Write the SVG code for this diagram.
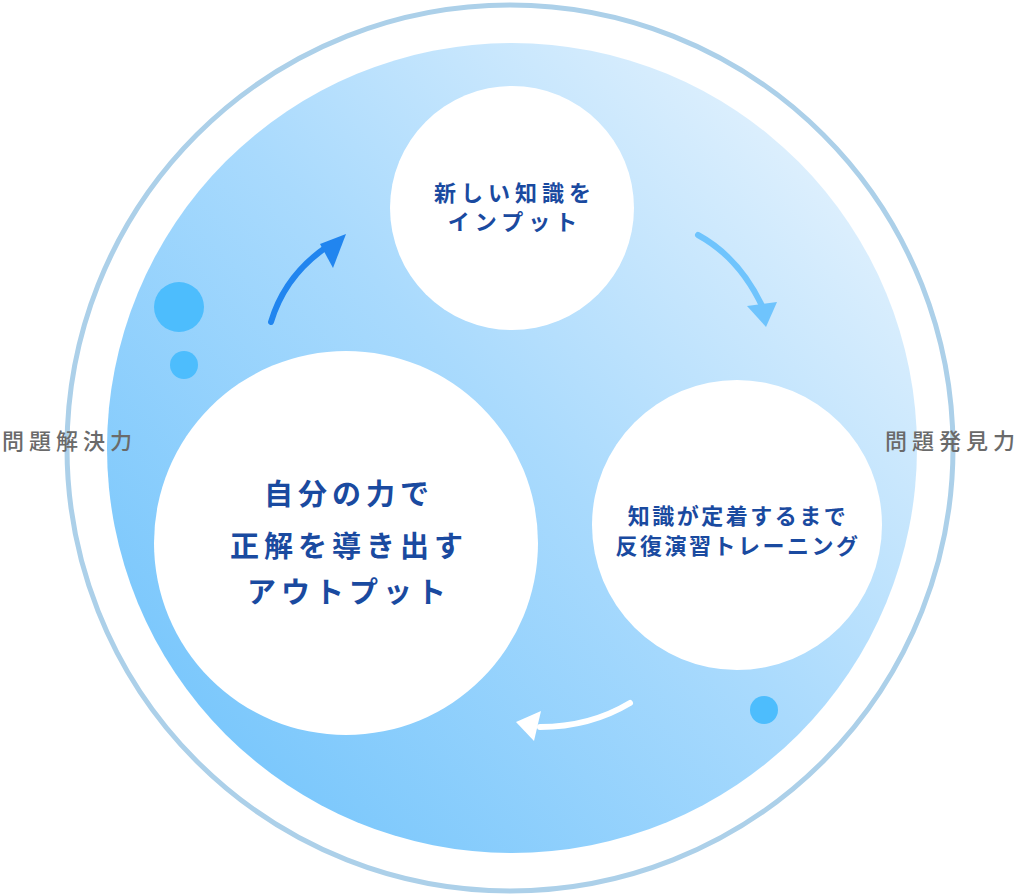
<svg xmlns="http://www.w3.org/2000/svg" width="1020" height="896" viewBox="0 0 1020 896">
<defs>
<linearGradient id="bg" x1="0.15" y1="0.85" x2="0.9" y2="0.15">
<stop offset="0" stop-color="#7cc8fc"/>
<stop offset="0.5" stop-color="#a9dafd"/>
<stop offset="1" stop-color="#dff0fd"/>
</linearGradient>
<style>
.node{fill:#fff}
.t{font-family:"Noto Sans CJK JP","Noto Sans",sans-serif;font-weight:700;fill:#1a4aa0;text-anchor:middle}
.side{font-family:"Noto Sans CJK JP","Noto Sans",sans-serif;font-weight:500;fill:#6a6a6a;font-size:22px;letter-spacing:5px}
.dot{fill:#4dbdfd}
</style>
</defs>
<circle cx="510" cy="448" r="443" fill="#fff" stroke="#acd0e9" stroke-width="5"/>
<circle cx="512" cy="448" r="405" fill="url(#bg)"/>
<g id="dots">
<circle class="dot" cx="179" cy="307" r="25"/>
<circle class="dot" cx="184" cy="365" r="14"/>
<circle class="dot" cx="764" cy="710" r="14"/>
</g>
<g id="connectors" fill="none" stroke-linecap="round" stroke-width="6">
<path d="M271 322 Q285 275 328 246" stroke="#2185ef"/>
<polygon points="346,234 333,268 320,244" fill="#2185ef" stroke="none"/>
<path d="M698 235 Q740 258 763 308" stroke="#6fc4fd"/>
<polygon points="766,327 747,306 777,302" fill="#6fc4fd" stroke="none"/>
<path d="M630 703 Q590 727 540 727" stroke="#fff"/>
<polygon points="516,722 541,711 534,741" fill="#fff" stroke="none"/>
</g>
<g id="node-input">
<circle class="node" cx="512" cy="208" r="122"/>
<text class="t" x="515" y="201" font-size="22" letter-spacing="5">新しい知識を</text>
<text class="t" x="515" y="230" font-size="22" letter-spacing="5">インプット</text>
</g>
<g id="node-training">
<circle class="node" cx="737" cy="525" r="145"/>
<text class="t" x="738" y="524" font-size="22" letter-spacing="2.5">知識が定着するまで</text>
<text class="t" x="738" y="554" font-size="22" letter-spacing="2.5">反復演習トレーニング</text>
</g>
<g id="node-output">
<circle class="node" cx="346" cy="543" r="192"/>
<text class="t" x="349" y="505" font-size="29" letter-spacing="5">自分の力で</text>
<text class="t" x="349" y="557" font-size="29" letter-spacing="5">正解を導き出す</text>
<text class="t" x="349" y="603" font-size="29" letter-spacing="5">アウトプット</text>
</g>
<g id="labels">
<text class="side" x="2" y="449">問題解決力</text>
<text class="side" x="885" y="449">問題発見力</text>
</g>
</svg>
